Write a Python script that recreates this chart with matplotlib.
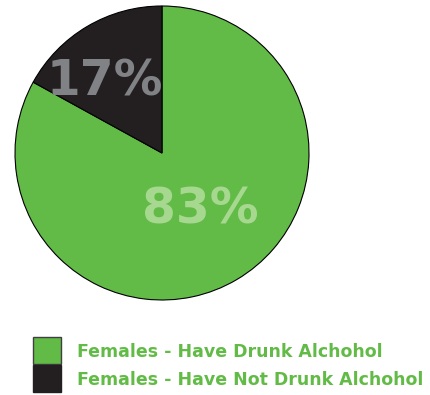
import matplotlib.pyplot as plt
from matplotlib.patches import Rectangle

labels = ["Females - Have Drunk Alchohol", "Females - Have Not Drunk Alchohol"]
shares = [83, 17]
colors = ["#62bb46", "#231f20"]
text_colors = ["#a7d890", "#808285"]

W, H = 430, 395

fig = plt.figure(figsize=(W / 100, H / 100), dpi=100)
ax = fig.add_axes([0, 0, 1, 1])

# Pie in pixel space, first slice running clockwise from 12 o'clock.
cx, cy, r = 162, H - 153, 147
ax.pie(
    shares,
    colors=colors,
    center=(cx, cy),
    radius=r,
    startangle=90,
    counterclock=False,
    wedgeprops={"edgecolor": "black", "linewidth": 0.8},
    frame=True,
)
ax.set_xlim(0, W)
ax.set_ylim(0, H)
ax.set_aspect("equal")
ax.axis("off")

# Percent labels inside the slices (baseline positions).
label_pos = [(200, H - 223), (105, H - 95)]
for share, (x, y), tc in zip(shares, label_pos, text_colors):
    ax.text(x, y, f"{share}%", color=tc, fontsize=35, fontweight="bold",
            family="DejaVu Sans", ha="center", va="baseline")

# Legend drawn by hand: square swatch + bold green caption.
rows_y = [H - 357, H - 385]
for lab, col, y in zip(labels, colors, rows_y):
    ax.add_patch(Rectangle((33, y - 7), 28, 27, facecolor=col,
                           edgecolor="#404040" if col != "#231f20" else col,
                           linewidth=1.0))
    ax.text(77, y, lab, color="#62bb46", fontsize=12.5, fontweight="bold",
            family="DejaVu Sans", ha="left", va="baseline")

fig.savefig("out.png", dpi=100)
